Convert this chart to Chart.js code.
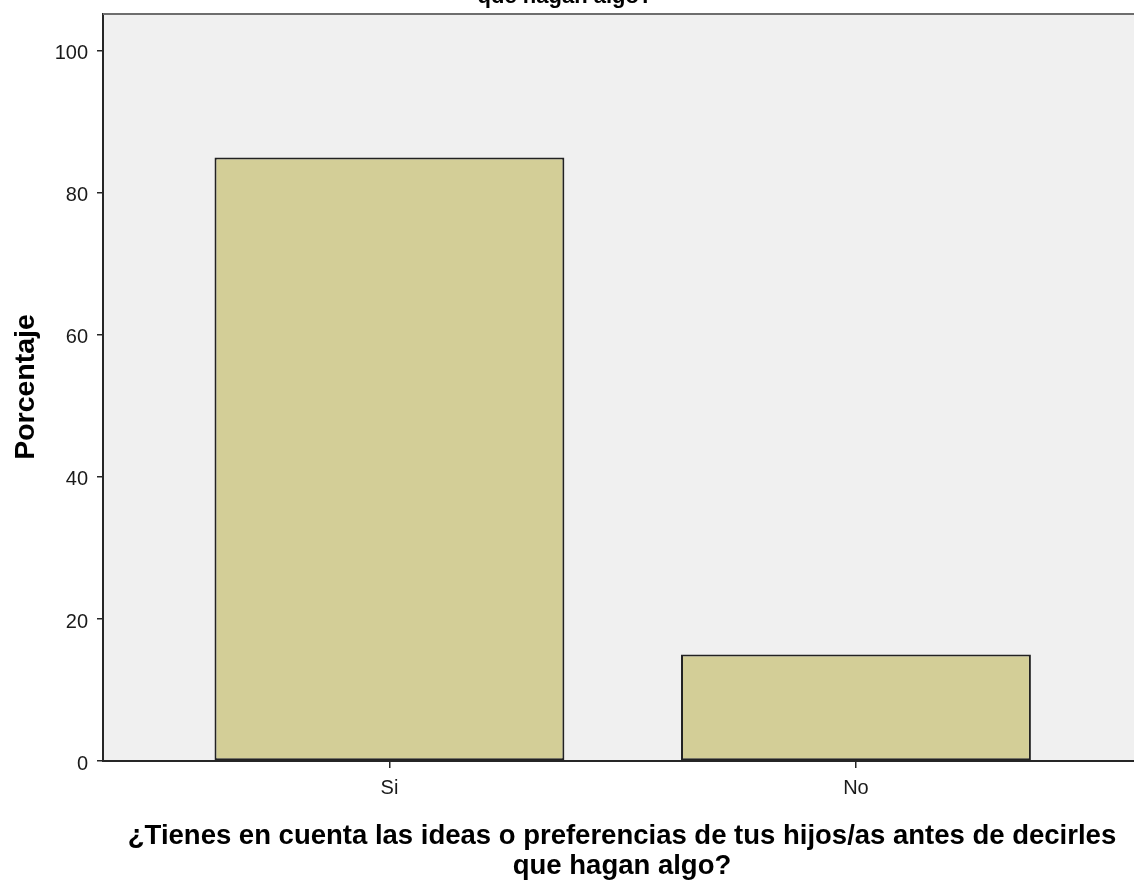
<!DOCTYPE html>
<html>
<head>
<meta charset="utf-8">
<script src="https://cdn.jsdelivr.net/npm/chart.js@4/dist/chart.umd.min.js"></script>
<style>
  html, body { margin: 0; padding: 0; background: #ffffff; overflow: hidden; }
  #wrap { width: 1134px; height: 880px; position: relative; }
</style>
</head>
<body>
<div id="wrap"><canvas id="c" width="1134" height="880"></canvas></div>
<script>
// ---- data ----
const categories = ['Si', 'No'];
const percentages = [85, 15];
const yTicks = [0, 20, 40, 60, 80, 100];
const yTitle = 'Porcentaje';
const xTitleLines = ['¿Tienes en cuenta las ideas o preferencias de tus hijos/as antes de decirles', 'que hagan algo?'];
const chartTitle = 'que hagan algo?';

const AXIS = '#262626';

const bgPlugin = {
  id: 'plotBg',
  beforeDraw(chart) {
    const { ctx, chartArea: a } = chart;
    ctx.save();
    ctx.fillStyle = '#f0f0f0';
    ctx.fillRect(a.left, a.top, a.right - a.left, a.bottom - a.top);
    ctx.restore();
  },
  afterDraw(chart) {
    const { ctx, chartArea: a } = chart;
    ctx.save();
    // top frame line
    ctx.strokeStyle = '#6e6e6e';
    ctx.lineWidth = 2;
    ctx.beginPath();
    ctx.moveTo(a.left, a.top);
    ctx.lineTo(a.right, a.top);
    ctx.stroke();
    // titles
    ctx.fillStyle = '#000000';
    ctx.textAlign = 'center';
    ctx.textBaseline = 'alphabetic';
    ctx.font = 'bold 22px "Liberation Sans", Arial, sans-serif';
    ctx.fillText(chartTitle, 565, 3);
    ctx.font = 'bold 27.5px "Liberation Sans", Arial, sans-serif';
    ctx.fillText(xTitleLines[0], 622, 844);
    ctx.fillText(xTitleLines[1], 622, 874);
    ctx.translate(34, 387);
    ctx.rotate(-Math.PI / 2);
    ctx.font = 'bold 28.5px "Liberation Sans", Arial, sans-serif';
    ctx.fillText(yTitle, 0, 0);
    ctx.restore();
  }
};

new Chart(document.getElementById('c'), {
  type: 'bar',
  data: {
    datasets: [{
      data: categories.map((c, i) => ({ x: i, y: percentages[i] })),
      backgroundColor: '#d3ce97',
      borderColor: '#222222',
      borderWidth: 2,
      borderSkipped: false,
      barPercentage: 0.75,
      categoryPercentage: 1.0
    }]
  },
  options: {
    responsive: false,
    animation: false,
    layout: { padding: { top: 14, right: 0, left: 0, bottom: 0 } },
    plugins: { legend: { display: false }, tooltip: { enabled: false }, title: { display: false } },
    scales: {
      x: {
        type: 'linear',
        offset: false,
        min: -0.614,
        max: 1.596,
        afterBuildTicks(s) { s.ticks = categories.map((c, i) => ({ value: i })); },
        afterFit(s) { s.height = 119; s.paddingLeft = 0; s.paddingRight = 0; },
        grid: { display: true, offset: false, drawOnChartArea: false, drawTicks: true, tickLength: 7, color: AXIS, lineWidth: 1.5 },
        border: { display: true, color: AXIS, width: 2 },
        ticks: {
          padding: 8,
          color: '#1a1a1a',
          font: { family: '"Liberation Sans", Arial, sans-serif', size: 20 },
          callback: (v) => categories[v]
        }
      },
      y: {
        type: 'linear',
        min: 0,
        max: 105.2,
        afterBuildTicks(s) { s.ticks = yTicks.map(v => ({ value: v })); },
        afterFit(s) { s.width = 103; s.paddingTop = 0; s.paddingBottom = 0; },
        grid: { display: true, drawOnChartArea: false, drawTicks: true, tickLength: 6, color: AXIS, lineWidth: 1.5 },
        border: { display: true, color: AXIS, width: 2 },
        ticks: {
          padding: 9,
          labelOffset: 3,
          color: '#1a1a1a',
          font: { family: '"Liberation Sans", Arial, sans-serif', size: 20 },
          callback: (v) => String(v)
        }
      }
    }
  },
  plugins: [bgPlugin]
});
</script>
</body>
</html>
